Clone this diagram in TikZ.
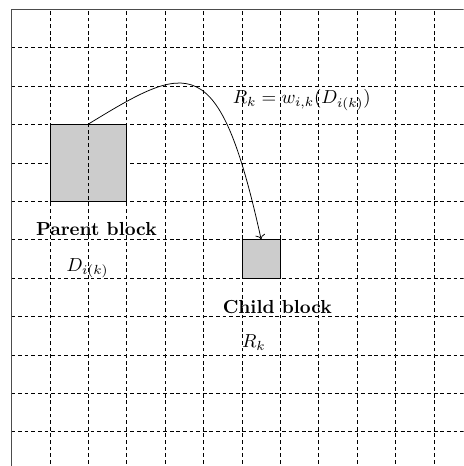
\documentclass[tikz,border=0pt]{standalone}
\usepackage{amsmath,amssymb}
\usepackage{xcolor}
\usepackage{tikz}
\usetikzlibrary{arrows.meta}
\tikzset{
  gridline/.style={line width=0.4pt,dash pattern=on 2pt off 1.5pt},
  blockbox/.style={draw,fill=black!20,inner sep=0pt},
}

\begin{document}
\begin{tikzpicture}[x=0.716cm,y=0.716cm]
\useasboundingbox (-0.3,0.107) rectangle (11.77,12.242);
\clip (-0.3,0.107) rectangle (11.77,12.242);
\foreach \y in {1,...,11}
  \draw[gridline] (0,\y) -- (12,\y);         % rows
\node[blockbox,minimum width=1.432cm,minimum height=1.432cm] (parent) at (2,8) {};
\node[blockbox,minimum size=0.716cm] (child) at (6.5,5.5) {};
\foreach \x in {1,...,11}
  \draw[gridline] (\x,0) -- (\x,12);         % columns
\draw[black!70,line width=0.6pt] (0,0) -- (0,12) -- (12,12);   % frame
\draw[->] (parent.north) .. controls (4.6,10.6) and (5.4,11.0) .. (child.north);
\node (law) at (7.56,9.64) {$R_k = w_{i,k}(D_{i(k)})$};
\node[font=\bfseries] (plabel) at (2.21,6.27) {Parent block};
\node (pset) at (1.98,5.26) {$D_{i(k)}$};
\node[font=\bfseries] (clabel) at (6.92,4.25) {Child block};
\node (cset) at (6.31,3.32) {$R_k$};
\end{tikzpicture}
\end{document}
